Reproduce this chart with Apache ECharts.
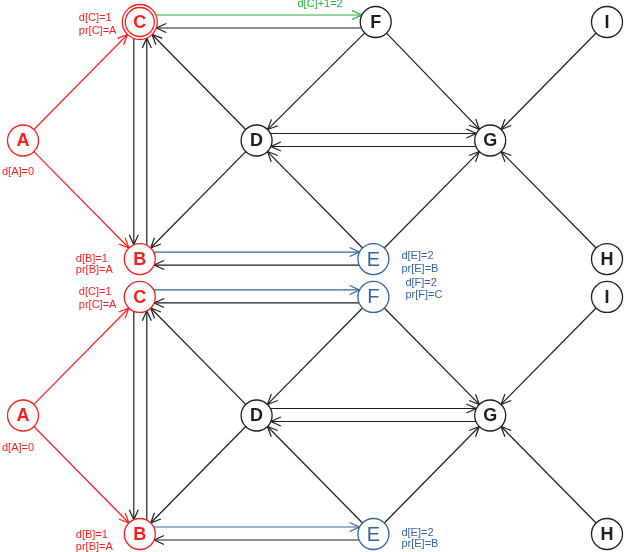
<!DOCTYPE html>
<html>
<head>
<meta charset="utf-8">
<script src="https://cdn.jsdelivr.net/npm/echarts@6/dist/echarts.min.js"></script>
<style>
  html, body { margin: 0; padding: 0; background: #fff; }
  #main { width: 624px; height: 552px; }
</style>
</head>
<body>
<div id="main"></div>
<script>
// vertices: two copies of the same graph, stacked (grid column / row)
const nodeName = ['A', 'C', 'F', 'I', 'D', 'G', 'B', 'E', 'H',
                  'A', 'C', 'F', 'I', 'D', 'G', 'B', 'E', 'H'];
const nodeCol  = [0, 1, 3.02, 5, 2, 4, 1, 3, 5,
                  0, 1, 3, 5, 2, 4, 1, 3, 5];
const nodeRow  = [1, 0, 0, 0, 1, 1, 2, 2, 2,
                  3.32, 2.32, 2.32, 2.32, 3.32, 3.32, 4.32, 4.32, 4.32];
// red = visited, ring = current vertex, blue = newly reached
const nodeKind = ['red', 'ring', 'black', 'black', 'black', 'black', 'red', 'blue', 'black',
                  'red', 'red', 'blue', 'black', 'black', 'black', 'red', 'blue', 'black'];

// directed edges of one copy; shift = parallel offset for two-way pairs
const edgeFrom  = ['A', 'A', 'C', 'F', 'C', 'B', 'D', 'F', 'F', 'I', 'D', 'G', 'D', 'E', 'E', 'H', 'B', 'E'];
const edgeTo    = ['C', 'B', 'F', 'C', 'B', 'C', 'C', 'D', 'G', 'G', 'G', 'D', 'B', 'D', 'G', 'G', 'E', 'B'];
const edgeShift = [0, 0, -7, -6, 6, 7, 0, 0, 0, 0, -7, -6, 0, 0, 0, 0, -7, -6];
const edgeKindTop    = ['red', 'red', 'green', 'black', 'black', 'black', 'black', 'black', 'black',
                        'black', 'black', 'black', 'black', 'black', 'black', 'black', 'blue', 'black'];
const edgeKindBottom = ['red', 'red', 'blue', 'black', 'black', 'black', 'black', 'black', 'black',
                        'black', 'black', 'black', 'black', 'black', 'black', 'black', 'blue', 'black'];

// small notes next to vertices (index into node arrays)
const noteNode  = [1, 1, 0, 6, 6, 7, 7, 2,
                   10, 10, 9, 15, 15, 16, 16, 11, 11];
const noteText  = ['d[C]=1', 'pr[C]=A', 'd[A]=0', 'd[B]=1', 'pr[B]=A', 'd[E]=2', 'pr[E]=B', 'd[C]+1=2',
                   'd[C]=1', 'pr[C]=A', 'd[A]=0', 'd[B]=1', 'pr[B]=A', 'd[E]=2', 'pr[E]=B', 'd[F]=2', 'pr[F]=C'];
const noteKind  = ['red', 'red', 'red', 'red', 'red', 'blue', 'blue', 'green',
                   'red', 'red', 'red', 'red', 'red', 'blue', 'blue', 'blue', 'blue'];

const colors = { red: '#ff1c1c', green: '#1cb13a', blue: '#33649f', black: '#1e1e1e' };

let chart = echarts.init(document.getElementById('main'));

// build edge list for both copies
const perGraph = 9;
let edges = [];
[edgeKindTop, edgeKindBottom].forEach(function (kinds, g) {
  edgeFrom.forEach(function (f, i) {
    edges.push({
      from: nodeName.indexOf(f) + g * perGraph,
      to: nodeName.indexOf(edgeTo[i]) + g * perGraph,
      shift: edgeShift[i],
      kind: kinds[i]
    });
  });
});

// note offsets from their vertex (px)
const noteDx = [-61, -61, -21, -64, -64, 28, 28, -33,
                -61, -61, -21, -64, -64, 28, 28, 32, 32];
const noteDy = [-4, 9, 31, 0, 11, -3, 10, -18,
                -5, 8, 32, 1, 13, -1, 10, -14, -2];
const noteAlign = ['left', 'left', 'left', 'left', 'left', 'left', 'left', 'right',
                   'left', 'left', 'left', 'left', 'left', 'left', 'left', 'left', 'left'];

function radius(i) {
  return nodeKind[i] === 'ring' ? 17.5 : 15.5;
}

function renderEdge(params, api) {
  const e = edges[params.dataIndex];
  const p = api.coord([api.value(0), api.value(1)]);
  const q = api.coord([api.value(2), api.value(3)]);
  const dx = q[0] - p[0], dy = q[1] - p[1];
  const len = Math.sqrt(dx * dx + dy * dy);
  const ux = dx / len, uy = dy / len;
  const nx = -uy, ny = ux;
  const s = e.shift;
  const a1 = Math.sqrt(Math.pow(radius(e.from), 2) - s * s);
  const a2 = Math.sqrt(Math.pow(radius(e.to), 2) - s * s);
  const x1 = p[0] + ux * a1 + nx * s, y1 = p[1] + uy * a1 + ny * s;
  const x2 = q[0] - ux * a2 + nx * s, y2 = q[1] - uy * a2 + ny * s;
  const hl = 10, hw = 4.5;
  const hx = x2 - ux * hl, hy = y2 - uy * hl;
  const col = colors[e.kind];
  return {
    type: 'group',
    children: [
      { type: 'line', shape: { x1: x1, y1: y1, x2: x2, y2: y2 },
        style: { stroke: col, lineWidth: 1.2 } },
      { type: 'polyline',
        shape: { points: [[hx + nx * hw, hy + ny * hw], [x2, y2], [hx - nx * hw, hy - ny * hw]] },
        style: { stroke: col, lineWidth: 1.2, fill: null } }
    ]
  };
}

function renderNode(params, api) {
  const i = params.dataIndex;
  const c = api.coord([api.value(0), api.value(1)]);
  const kind = nodeKind[i];
  const col = colors[kind === 'ring' ? 'red' : kind];
  let children = [];
  if (kind === 'ring') {
    children.push({ type: 'circle', shape: { cx: c[0], cy: c[1], r: 17.5 },
      style: { fill: '#fff', stroke: col, lineWidth: 1.3 } });
    children.push({ type: 'circle', shape: { cx: c[0], cy: c[1], r: 14.5 },
      style: { fill: '#fff', stroke: col, lineWidth: 1.3 } });
  } else {
    children.push({ type: 'circle', shape: { cx: c[0], cy: c[1], r: 15.5 },
      style: { fill: '#fff', stroke: col, lineWidth: 1.3 } });
  }
  children.push({
    type: 'text', x: c[0], y: c[1] + 1,
    style: {
      text: nodeName[i], fill: col, align: 'center', verticalAlign: 'middle',
      fontFamily: 'Liberation Sans', fontSize: kind === 'blue' ? 20 : 18,
      fontWeight: kind === 'blue' ? 'normal' : 'bold'
    }
  });
  return { type: 'group', children: children };
}

function renderNote(params, api) {
  const i = params.dataIndex;
  const c = api.coord([api.value(0), api.value(1)]);
  return {
    type: 'text', x: c[0] + noteDx[i], y: c[1] + noteDy[i],
    style: {
      text: noteText[i], fill: colors[noteKind[i]], align: noteAlign[i], verticalAlign: 'middle',
      fontFamily: 'Liberation Sans', fontSize: 11
    }
  };
}

let option = {
  animation: false,
  backgroundColor: '#fff',
  grid: { left: 23, right: 17, top: 22, bottom: 18 },
  xAxis: { type: 'value', min: 0, max: 5, show: false },
  yAxis: { type: 'value', min: 0, max: 4.32, inverse: true, show: false },
  series: [
    {
      type: 'custom', name: 'edges', clip: false, z: 1,
      renderItem: renderEdge,
      encode: { x: [0, 2], y: [1, 3] },
      data: edges.map(function (e) {
        return [nodeCol[e.from], nodeRow[e.from], nodeCol[e.to], nodeRow[e.to]];
      })
    },
    {
      type: 'custom', name: 'nodes', clip: false, z: 2,
      renderItem: renderNode,
      encode: { x: 0, y: 1 },
      data: nodeCol.map(function (c, i) { return [c, nodeRow[i]]; })
    },
    {
      type: 'custom', name: 'notes', clip: false, z: 3,
      renderItem: renderNote,
      encode: { x: 0, y: 1 },
      data: noteNode.map(function (n) { return [nodeCol[n], nodeRow[n]]; })
    }
  ]
};

chart.setOption(option);
</script>
</body>
</html>
